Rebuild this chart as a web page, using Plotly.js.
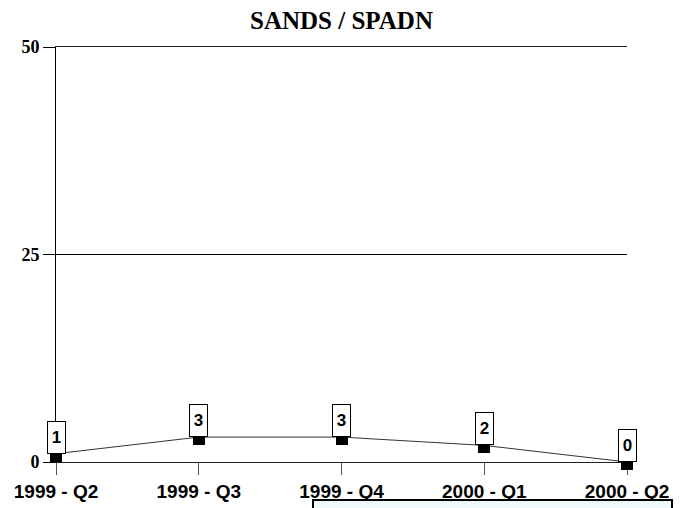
<!DOCTYPE html>
<html>
<head>
<meta charset="utf-8">
<script src="https://cdn.plot.ly/plotly-3.0.1.min.js"></script>
<style>html,body{margin:0;padding:0;background:#fff;}#chart{width:683px;height:508px;}</style>
</head>
<body>
<div id="chart"></div>
<script>
const quarters = ["1999 - Q2", "1999 - Q3", "1999 - Q4", "2000 - Q1", "2000 - Q2"];
const counts = [1, 3, 3, 2, 0];
const yTicks = [0, 25, 50];
const chartTitle = "SANDS / SPADN";

const annotations = [];
quarters.forEach((q, i) => {
  annotations.push({
    x: q, y: counts[i], xref: "x", yref: "y",
    text: String(counts[i]), showarrow: false,
    xanchor: "center", yanchor: "bottom",
    bgcolor: "#ffffff", bordercolor: "#000000", borderwidth: 1, borderpad: 0,
    width: 17, height: 31,
    font: {family: "Liberation Sans, Arial, sans-serif", size: 17, color: "#000", weight: "bold"}
  });
  annotations.push({
    x: q, y: counts[i], xref: "x", yref: "y",
    text: " ", showarrow: false,
    xanchor: "center", yanchor: "top",
    bgcolor: "#000000", borderwidth: 0, borderpad: 0,
    width: 12, height: 8,
    font: {size: 4, color: "#000"}
  });
});

const trace = {
  x: quarters, y: counts, type: "scatter", mode: "lines",
  line: {color: "#333333", width: 1}, cliponaxis: false, hoverinfo: "none"
};

const layout = {
  width: 683, height: 508,
  margin: {l: 56, r: 56, t: 47, b: 46, pad: 0},
  paper_bgcolor: "#ffffff", plot_bgcolor: "#ffffff",
  showlegend: false,
  title: {text: "<b>" + chartTitle + "</b>", x: 0.5, xanchor: "center", y: 0.96, yanchor: "middle",
          font: {family: "Liberation Serif, Times New Roman, serif", size: 25, color: "#000"}},
  xaxis: {
    type: "category", categoryorder: "array", categoryarray: quarters,
    range: [0, 4], fixedrange: true,
    showgrid: false, zeroline: false,
    showline: true, mirror: true, linecolor: "#222222", linewidth: 1,
    ticks: "outside", ticklen: 12, tickcolor: "#555555", tickwidth: 1,
    tickfont: {family: "Liberation Sans, Arial, sans-serif", size: 19, color: "#000", weight: "bold"}
  },
  yaxis: {
    range: [0, 50], tickvals: yTicks, ticktext: yTicks.map(String),
    showgrid: true, gridcolor: "#000000", gridwidth: 1,
    zeroline: false,
    showline: true, linecolor: "#000000", linewidth: 1,
    ticks: "outside", ticklen: 12, tickcolor: "#000000", tickwidth: 1,
    tickfont: {family: "Liberation Serif, Times New Roman, serif", size: 18, color: "#000", weight: "bold"}
  },
  annotations: annotations,
  shapes: [{
    type: "rect", xref: "paper", yref: "paper",
    x0: (313 - 56) / 571, x1: (672 - 56) / 571,
    y0: (462 - 520) / 415, y1: (462 - 500) / 415,
    fillcolor: "#eefafa", line: {color: "#000000", width: 2}, layer: "above"
  }]
};

Plotly.newPlot("chart", [trace], layout, {displayModeBar: false, staticPlot: true});
</script>
</body>
</html>
